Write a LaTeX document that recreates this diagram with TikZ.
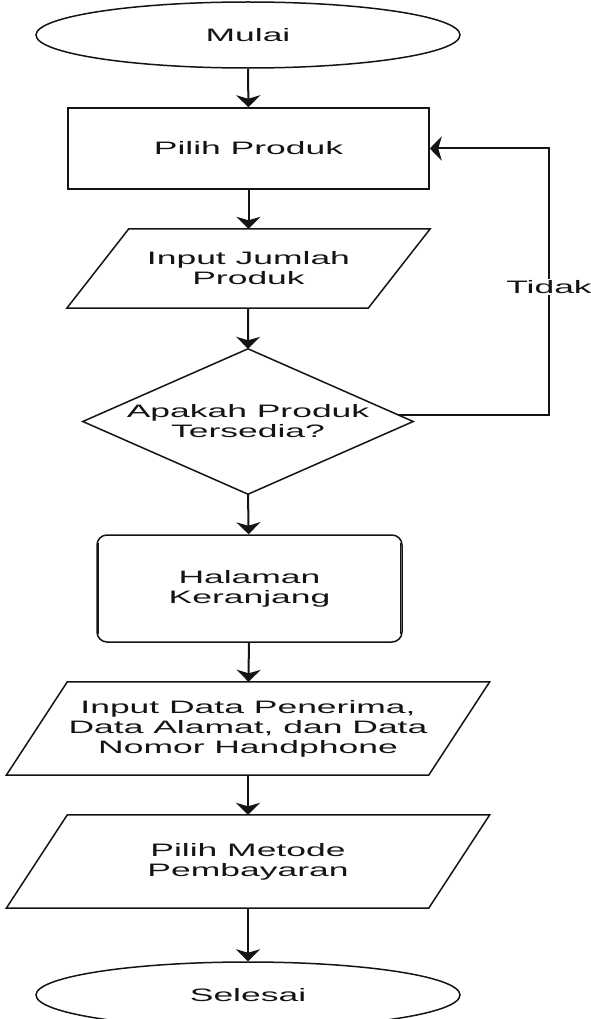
\documentclass[tikz,border=0pt]{standalone}
\usepackage{fontspec}
\setmainfont{Liberation Sans}[FakeStretch=1.97]
\usetikzlibrary{shapes.geometric,arrows.meta,calc}

\definecolor{ink}{RGB}{20,20,20}

\begin{document}
\begin{tikzpicture}[x=1pt,y=-1pt,
  every node/.style={font=\fontsize{18}{20}\selectfont, text=ink, align=center, inner sep=0pt},
  shapeline/.style={draw=ink, line width=1.5pt},
  terminal/.style={ellipse, shapeline, minimum width=424pt, minimum height=66pt},
  procbox/.style={rectangle, shapeline, minimum width=361pt, minimum height=81pt},
  holder/.style={rectangle, draw=none, minimum width=#1},
  flow/.style={draw=ink, line width=2pt, -{Stealth[length=12pt,width=24pt,inset=3.5pt]}},
  lbl/.style={fill=white, inner sep=1.5pt},
]
% page
\fill[white] (0,0) rectangle (591,1019);
\useasboundingbox (0,0) rectangle (591,1019);

% nodes
\node[terminal] (start) at (248,35) {Mulai};
\node[procbox] (pick) at (248.5,148.5) {Pilih Produk};
\node[holder=301pt, minimum height=79pt] (qty) at (248.5,268.5) {Input Jumlah\\Produk};
\node[holder=330pt, minimum height=145pt] (avail) at (248,421.5) {Apakah Produk\\Tersedia?};
\node[rectangle, shapeline, rounded corners=10pt, minimum width=305pt, minimum height=107pt] (cart) at (249.5,588.5) {Halaman\\Keranjang};
\node[holder=422pt, minimum height=93pt] (addr) at (248,728.5) {Input Data Penerima,\\Data Alamat, dan Data\\Nomor Handphone};
\node[holder=422pt, minimum height=93pt] (pay) at (248,861.5) {Pilih Metode\\Pembayaran};
\node[terminal] (stop) at (248,995) {Selesai};

% parallelograms
\draw[shapeline] ($(qty.north west)+(31,0)$) -- ($(qty.north east)+(31,0)$)
  -- ($(qty.south east)+(-31,0)$) -- ($(qty.south west)+(-31,0)$) -- cycle;
\draw[shapeline] ($(addr.north west)+(30.5,0)$) -- ($(addr.north east)+(30.5,0)$)
  -- ($(addr.south east)+(-30.5,0)$) -- ($(addr.south west)+(-30.5,0)$) -- cycle;
\draw[shapeline] ($(pay.north west)+(30.5,0)$) -- ($(pay.north east)+(30.5,0)$)
  -- ($(pay.south east)+(-30.5,0)$) -- ($(pay.south west)+(-30.5,0)$) -- cycle;

% decision diamond
\draw[shapeline] (avail.north) -- (avail.east) -- (avail.south) -- (avail.west) -- cycle;

% inner side bars of the cart box
\draw[shapeline] ([xshift=2.2pt,yshift=-9pt]cart.north west) -- ([xshift=2.2pt,yshift=9pt]cart.south west);
\draw[shapeline] ([xshift=-2.2pt,yshift=-9pt]cart.north east) -- ([xshift=-2.2pt,yshift=9pt]cart.south east);

% main flow
\draw[flow] (start) -- (pick);
\draw[flow] (pick) -- (qty);
\draw[flow] (qty) -- (avail.north);
\draw[flow] (avail.south) -- (cart);
\draw[flow] (cart) -- (addr);
\draw[flow] (addr) -- (pay);
\draw[flow] (pay) -- (stop);

% "Tidak" loop back
\coordinate (exit) at ($(avail.east)+(-15,-6.5)$);
\coordinate (rail) at (549,0);
\draw[flow] (exit) -- (exit -| rail) |- (pick.east);
\node[lbl] (no) at (549,287) {Tidak};
\end{tikzpicture}
\end{document}
